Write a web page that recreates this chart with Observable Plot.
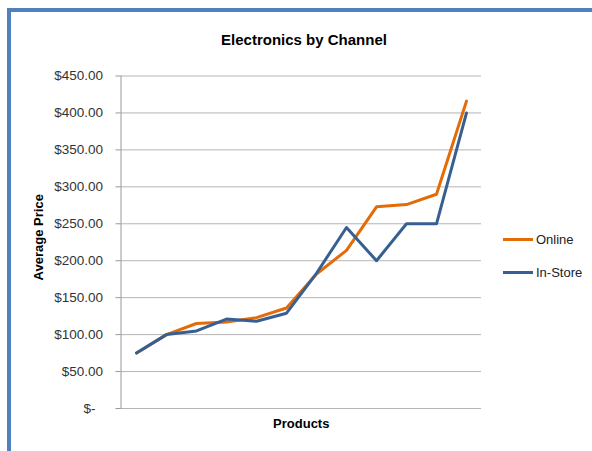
<!DOCTYPE html>
<html><head><meta charset="utf-8">
<script src="https://cdn.jsdelivr.net/npm/d3@7"></script>
<script src="https://cdn.jsdelivr.net/npm/@observablehq/plot@0.6"></script>
<style>
body{margin:0;background:#fff;}
#wrap{position:relative;width:592px;height:451px;overflow:hidden;font-family:"Liberation Sans",Arial,sans-serif;background:#fff;}
#frame{position:absolute;left:7px;top:8px;width:700px;height:600px;border-top:4px solid #4F81BD;border-left:4px solid #4F81BD;}
#chart{position:absolute;left:0;top:0;}
#title{position:absolute;left:0;width:608px;top:31px;text-align:center;font-size:15px;font-weight:bold;color:#000;}
#legend{position:absolute;left:503px;top:230px;font-size:13px;color:#222;}
.item{display:flex;align-items:center;height:18px;margin-bottom:15px;}
.sw{width:30px;height:3px;margin-right:3px;}
</style></head>
<body><div id="wrap"><div id="frame"></div><div id="chart"></div><div id="title">Electronics by Channel</div><div id="legend"></div></div>
<script>
const products = ["P1","P2","P3","P4","P5","P6","P7","P8","P9","P10","P11","P12"];
const channels = ["Online","In-Store"];
const online = [75,100,115,117,123,136,182,214,273,276,290,416];
const inStore = [75,100,105,121,118,129,183,245,200,250,250,400];
const yTicks = [0,50,100,150,200,250,300,350,400,450];
const colors = ["#E36C09","#376092"];

const data = [];
channels.forEach((c, ci) => {
  const vals = ci === 0 ? online : inStore;
  products.forEach((p, i) => data.push({product: p, channel: c, price: vals[i]}));
});

const chart = Plot.plot({
  width: 592, height: 451,
  marginLeft: 120.5, marginRight: 111, marginTop: 75.5, marginBottom: 43,
  style: {fontFamily: '"Liberation Sans", Arial, sans-serif', fontSize: "13.5px", background: "transparent"},
  x: {type: "point", domain: products, padding: 0.5, axis: null},
  y: {domain: [0, 450]},
  color: {domain: channels, range: colors},
  marks: [
    Plot.gridY(yTicks, {stroke: "#b5b5b5", strokeOpacity: 1}),
    Plot.axisY(yTicks, {tickSize: 5, tickPadding: 13, stroke: "#999", fontSize: 13.5, fill: "#333",
      tickFormat: d => d === 0 ? "$-\u2007" : "$" + d.toFixed(2), label: null}),
    Plot.frame({anchor: "left", stroke: "#999"}),
    Plot.line(data, {x: "product", y: "price", z: "channel", stroke: "channel", strokeWidth: 3, strokeLinejoin: "round"}),
    Plot.text(["Average Price"], {frameAnchor: "left", text: d => d, rotate: -90, textAnchor: "middle", dx: -82, dy: -5, fontSize: 13, fontWeight: "bold", fill: "#000"}),
    Plot.text(["Products"], {frameAnchor: "bottom", text: d => d, textAnchor: "middle", dy: 15, lineAnchor: "middle", fontSize: 13, fontWeight: "bold", fill: "#000"})
  ]
});
document.getElementById("chart").appendChild(chart);

const legend = document.getElementById("legend");
channels.forEach((c, i) => {
  const it = document.createElement("div");
  it.className = "item";
  it.innerHTML = `<div class="sw" style="background:${colors[i]}"></div><span>${c}</span>`;
  legend.appendChild(it);
});
</script>
</body></html>
